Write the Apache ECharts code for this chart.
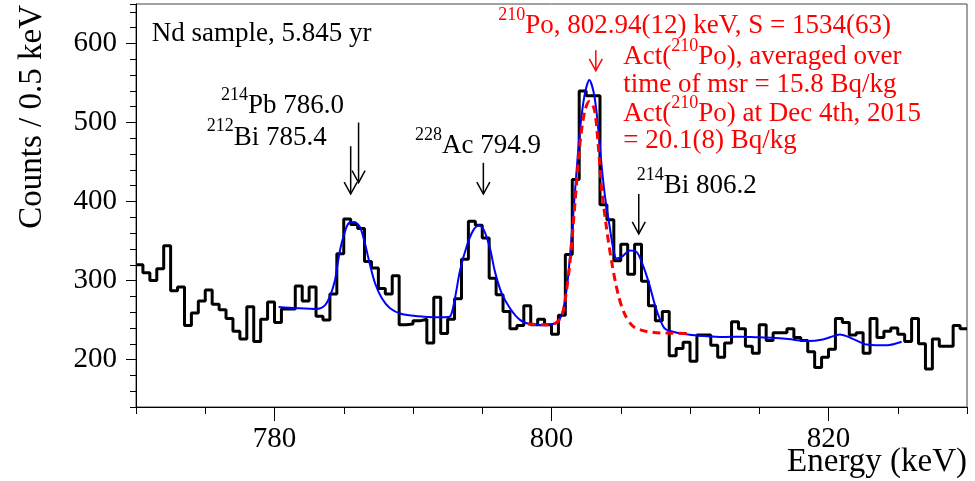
<!DOCTYPE html>
<html><head><meta charset="utf-8">
<script src="https://cdn.jsdelivr.net/npm/echarts@6/dist/echarts.min.js"></script>
<style>html,body{margin:0;padding:0;background:#fff}#c{width:975px;height:481px}</style>
</head><body><div id="c"></div>
<script>
// ---------------- data ----------------
const binStart = 770;      // keV, left edge of first bin
const binWidth = 0.5;      // keV
const counts = [
  320,310,300,315,344,287,292,243,259,274,
  288,270,263,252,236,226,267,223,251,273,
  247,264,264,293,274,292,255,250,283,334,
  378,371,366,324,316,290,283,306,244,245,
  249,251,221,279,233,251,277,327,375,370,
  354,303,282,261,239,243,268,244,251,244,
  232,256,333,428,540,534,534,396,377,325,
  346,308,346,299,268,249,261,205,214,222,
  198,231,231,218,203,221,248,239,217,208,
  244,224,234,234,239,228,224,210,190,203,
  213,252,247,231,234,208,252,228,236,240,
  232,223,252,220,188,226,217,217,243,239
];
// total fit (blue)
const fitE = [780.3,781.6,783.05,783.6,784.0,784.37,784.5,784.75,785.0,785.33,785.76,786.17,786.5,786.9,787.26,787.74,788.34,789.18,790.4,791.6,792.3,792.7,793.03,793.4,793.9,794.35,794.77,795.13,795.56,795.92,796.4,797.0,797.7,798.45,799.4,800.25,800.74,801.1,801.34,801.6,801.82,802.06,802.37,802.73,803.1,803.38,803.62,803.86,804.15,804.46,804.7,805.07,805.67,806.15,806.5,807.0,807.47,807.83,808.2,808.9,809.87,811.07,812.3,813.7,814.7,815.9,817.1,818.5,819.6,820.35,820.83,821.3,822.04,822.76,823.7,824.4,825.28];
const fitV = [266.5,265,264,268,280,300.8,315,340,357,372,374,367.7,349,319.6,296.6,278,265,257.7,254.8,253.6,253.6,255,277.8,313,344.7,363.5,370,363.5,340.5,311,284,265,250.6,245,243.5,246,256.8,290,332,390.7,441,491,533,553.8,533,491,445,407,374,340,328,330,338,336,324,299,269,251,239,234.7,231.7,229.7,228.5,229,228.4,227.6,226,223.4,225.5,229.7,231.7,229.7,224,219,218,218.5,222.6];
// 210Po component (red dashed)
const poE = [798.3,799.5,800.3,800.75,800.97,801.34,801.7,802.06,802.42,802.73,803.1,803.38,803.62,803.98,804.34,804.82,805.3,805.9,806.75,807.6,808.5,810.1];
const poV = [245,244,246,256,273.6,324,399,474,516,526.6,516,470,416,365.6,324,282,257,242,236,234,233.5,233];
const xTicks = [770,775,780,785,790,795,800,805,810,815,820,825,830];
const xTickLabels = [780,800,820];
const yTickLabels = [200,300,400,500,600];
const yTickCats = [];
for (let v = 140; v <= 650; v += 10) yTickCats.push(String(v));

// annotation arrows (energy, from-count, to-count)
const arrows = [
  {e:786.07, from:500, to:424, color:'#000'},
  {e:785.5,  from:470, to:409.5, color:'#000'},
  {e:795.08, from:449, to:409.5, color:'#000'},
  {e:803.2,  from:591.5, to:565.5, color:'#ff0000'},
  {e:806.3,  from:409.5, to:359, color:'#000'}
];
// annotation texts: rich markup, left x, baseline y
const labels = [
  {t:'{m|Nd sample, 5.845 yr}', x:151.7, b:43.3, c:'#000'},
  {t:'{s|214}{m|Pb 786.0}', x:221, b:115, c:'#000'},
  {t:'{s|212}{m|Bi 785.4}', x:206.7, b:146.7, c:'#000'},
  {t:'{s|228}{m|Ac 794.9}', x:415, b:155, c:'#000'},
  {t:'{s|210}{m|Po, 802.94(12) keV, S = 1534(63)}', x:498.3, b:35, c:'#ff0000'},
  {t:'{m|Act(}{s|210}{m|Po), averaged over}', x:623.3, b:66, c:'#ff0000'},
  {t:'{m|time of msr = 15.8 Bq/kg}', x:623.3, b:94.5, c:'#ff0000'},
  {t:'{m|Act(}{s|210}{m|Po) at Dec 4th, 2015}', x:623.3, b:123, c:'#ff0000'},
  {t:'{m|= 20.1(8) Bq/kg}', x:623.3, b:150.5, c:'#ff0000'},
  {t:'{s|214}{m|Bi 806.2}', x:636.7, b:195, c:'#000'}
];

// ---------------- chart ----------------
const FONT = "'Liberation Serif','Times New Roman',serif";
const histData = counts.map((c, i) => [binStart + i * binWidth, c]);
histData.push([binStart + counts.length * binWidth, counts[counts.length - 1]]);
const fitData = fitE.map((e, i) => [e, fitV[i]]);
const poData = poE.map((e, i) => [e, poV[i]]);

const chart = echarts.init(document.getElementById('c'), null, {renderer: 'canvas'});
chart.setOption({
  animation: false,
  backgroundColor: '#fff',
  grid: {left: 136, right: 8, top: 4, bottom: 74, show: true, borderColor: '#444', borderWidth: 1, backgroundColor: 'transparent'},
  xAxis: [{
    type: 'value', min: 770, max: 830, interval: 5,
    axisLine: {show: true, onZero: false, lineStyle: {color: '#000', width: 1}},
    axisTick: {show: true, length: 7, lineStyle: {color: '#000', width: 1}},
    axisLabel: {fontFamily: FONT, fontSize: 29, color: '#000', margin: 18,
      formatter: v => xTickLabels.indexOf(v) >= 0 ? String(v) : ''},
    splitLine: {show: false}
  }, {
    type: 'category', data: xTicks.map(String), boundaryGap: false, position: 'bottom',
    axisLine: {show: false},
    axisTick: {show: true, length: 14, lineStyle: {color: '#000', width: 1},
      interval: (i, v) => xTickLabels.indexOf(+v) >= 0},
    axisLabel: {show: false}, splitLine: {show: false}
  }],
  yAxis: [{
    type: 'value', min: 140, max: 650, interval: 20,
    axisLine: {show: true, onZero: false, lineStyle: {color: '#000', width: 1}},
    axisTick: {show: true, length: 6, lineStyle: {color: '#000', width: 1}},
    axisLabel: {fontFamily: FONT, fontSize: 29, color: '#000', margin: 19,
      formatter: v => yTickLabels.indexOf(v) >= 0 ? String(v) : ''},
    splitLine: {show: false}
  }, {
    type: 'category', data: yTickCats, boundaryGap: false, position: 'left',
    axisLine: {show: false},
    axisTick: {show: true, length: 10, lineStyle: {color: '#000', width: 1},
      interval: (i, v) => yTickLabels.indexOf(+v) >= 0},
    axisLabel: {show: false}, splitLine: {show: false}
  }],
  series: [{
    type: 'line', xAxisIndex: 0, yAxisIndex: 0, data: histData, step: 'end',
    showSymbol: false, symbol: 'none', z: 2,
    lineStyle: {color: '#000', width: 3}
  }, {
    type: 'line', xAxisIndex: 0, yAxisIndex: 0, data: fitData, smooth: 0.3,
    showSymbol: false, symbol: 'none', z: 3,
    lineStyle: {color: '#0000ff', width: 2}
  }, {
    type: 'line', xAxisIndex: 0, yAxisIndex: 0, data: poData, smooth: 0.3,
    showSymbol: false, symbol: 'none', z: 4,
    lineStyle: {color: '#ff0000', width: 3, type: [8, 5]}
  }]
});

// annotations
const MFS = 27, SFS = 18, MLH = 40, SLH = 18;
const g = [];
labels.forEach(l => {
  g.push({
    type: 'text', z: 100,
    style: {
      text: l.t, x: l.x, y: l.b - (MLH / 2 + 0.3375 * MFS),
      align: 'left', verticalAlign: 'top', fill: l.c,
      fontFamily: FONT, fontSize: MFS,
      rich: {
        m: {fontFamily: FONT, fontSize: MFS, lineHeight: MLH, fill: l.c, verticalAlign: 'middle'},
        s: {fontFamily: FONT, fontSize: SFS, lineHeight: SLH, fill: l.c, verticalAlign: 'top'}
      }
    }
  });
});
arrows.forEach(a => {
  const p1 = chart.convertToPixel({xAxisIndex: 0, yAxisIndex: 0}, [a.e, a.from]);
  const p2 = chart.convertToPixel({xAxisIndex: 0, yAxisIndex: 0}, [a.e, a.to]);
  g.push({type: 'line', z: 100, shape: {x1: p1[0], y1: p1[1], x2: p2[0], y2: p2[1]},
    style: {stroke: a.color, lineWidth: 1.5}});
  g.push({type: 'polyline', z: 100,
    shape: {points: [[p2[0] - 6.5, p2[1] - 12], [p2[0], p2[1]], [p2[0] + 6.5, p2[1] - 12]]},
    style: {stroke: a.color, lineWidth: 1.5, fill: null}});
});
// axis titles
g.push({type: 'text', z: 100, x: 32, y: 5, rotation: Math.PI / 2,
  style: {text: 'Counts / 0.5 keV', x: 0, y: 0, align: 'right', verticalAlign: 'middle',
    fontFamily: FONT, fontSize: 33, fill: '#000'}});
g.push({type: 'text', z: 100,
  style: {text: 'Energy (keV)', x: 967, y: 462, align: 'right', verticalAlign: 'middle',
    fontFamily: FONT, fontSize: 33, fill: '#000'}});
chart.setOption({graphic: g});
</script></body></html>
